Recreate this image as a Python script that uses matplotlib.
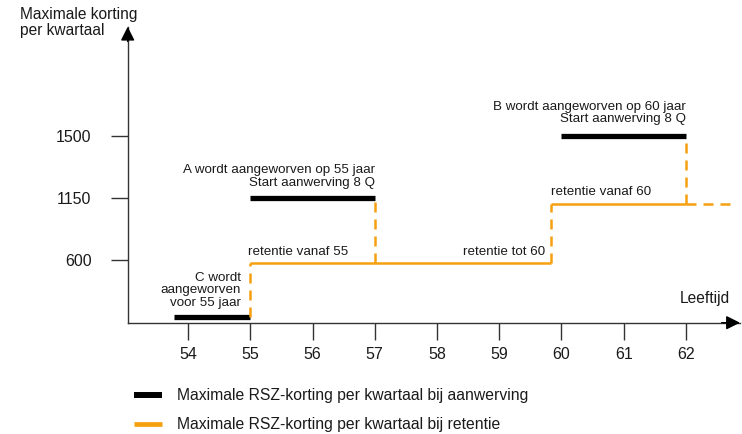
import numpy as np
import matplotlib
matplotlib.use('Agg')
import matplotlib.pyplot as plt
from matplotlib.lines import Line2D

plt.rcParams['font.family'] = ['Liberation Sans', 'DejaVu Sans']

# Data
ages = [54, 55, 56, 57, 58, 59, 60, 61, 62]
y_ticks = [600, 1150, 1500]

# hiring bars (black): start age, end age, discount level
hire_C = [53.78, 55, 55]
hire_A = [55, 57, 1150]
hire_B = [60, 62, 1500]

# retention (orange)
ret_start = 55
ret_step = 59.83
ret_end = 62
ret_tail = 62.8
ret_low = 572
ret_high = 1095

orange = '#f5a00f'
axis_col = '#333333'
txt_col = '#1a1a1a'

# schematic y scale: tick values evenly spaced
y_knots = [0, 600, 1150, 1500, 2200]
y_levels = [0, 1, 2, 3, 5]


def fwd(v):
    return np.interp(v, y_knots, y_levels)


def inv(l):
    return np.interp(l, y_levels, y_knots)


fig = plt.figure(figsize=(7.42, 4.34), dpi=100)
ax = fig.add_axes([127.7 / 742, 111.3 / 434, (740 - 127.7) / 742, (322.7 - 26.7) / 434])
ax.set_yscale('function', functions=(fwd, inv))
ax.set_xlim(53.03, 62.87)
ax.set_ylim(0, 2112)

# black bars
for x0, x1, lvl in [hire_C, hire_A, hire_B]:
    ax.plot([x0, x1], [lvl, lvl], color='black', lw=3.8, solid_capstyle='butt', zorder=2)

# orange retention lines
sol = dict(color=orange, lw=1.8, solid_capstyle='butt', zorder=3)
dsh = dict(color=orange, lw=1.8, dashes=(4, 2.8), zorder=3)
ax.plot([ret_start, ret_step], [ret_low, ret_low], **sol)
ax.plot([ret_step, ret_end], [ret_high, ret_high], **sol)
ax.plot([ret_end, ret_tail], [ret_high, ret_high], **dsh)
ax.plot([ret_start, ret_start], [hire_C[2], ret_low], **dsh)
ax.plot([hire_A[1], hire_A[1]], [ret_low, hire_A[2]], **dsh)
ax.plot([ret_step, ret_step], [ret_low, ret_high], **dsh)
ax.plot([ret_end, ret_end], [ret_high, hire_B[2]], **dsh)

# axes styling
for s in ['top', 'right']:
    ax.spines[s].set_visible(False)
for s in ['left', 'bottom']:
    ax.spines[s].set_color(axis_col)
    ax.spines[s].set_linewidth(1.0)
ax.set_xticks(ages)
ax.set_yticks(y_ticks)
ax.set_yticklabels([str(v) for v in y_ticks])
ax.minorticks_off()
ax.tick_params(axis='x', length=12.5, width=1.0, color=axis_col, pad=5,
               labelsize=11.5, labelcolor=txt_col)
ax.tick_params(axis='y', length=12.5, width=1.0, color=axis_col, pad=13.5,
               labelsize=11.5, labelcolor=txt_col)

arr = dict(arrowstyle='-|>', color='black', lw=1.0, mutation_scale=21, shrinkA=0, shrinkB=0)
ax.annotate('', xy=(1, 0), xytext=(0.97, 0), xycoords='axes fraction', arrowprops=arr)
ax.annotate('', xy=(0, 1), xytext=(0, 0.95), xycoords='axes fraction', arrowprops=arr)

# labels
fig.text(20 / 742, 1 - 7.5 / 434, 'Maximale korting\nper kwartaal', ha='left', va='top',
         fontsize=11.2, color=txt_col, linespacing=1.08)
fig.text(730 / 742, 1 - 298.3 / 434, 'Leeftijd', ha='right', va='center', fontsize=11.2, color=txt_col)

ann = dict(fontsize=9.6, color=txt_col, linespacing=1.06, textcoords='offset points')
ax.annotate('A wordt aangeworven op 55 jaar\nStart aanwerving 8 Q', xy=(hire_A[1], hire_A[2]),
            xytext=(0, 6.5), ha='right', va='bottom', **ann)
ax.annotate('B wordt aangeworven op 60 jaar\nStart aanwerving 8 Q', xy=(hire_B[1], hire_B[2]),
            xytext=(0, 7.5), ha='right', va='bottom', **ann)
ax.annotate('C wordt\naangeworven\nvoor 55 jaar', xy=(54.85, hire_C[2]),
            xytext=(0, 6), ha='right', va='bottom', **ann)
ax.annotate('retentie vanaf 55', xy=(ret_start, ret_low), xytext=(-2, 8.3), ha='left',
            va='center', **ann)
ax.annotate('retentie tot 60', xy=(59.74, ret_low), xytext=(0, 8.3), ha='right',
            va='center', **ann)
ax.annotate('retentie vanaf 60', xy=(ret_step, ret_high), xytext=(0, 9), ha='left',
            va='center', **ann)

# legend
handles = [Line2D([], [], color='black', lw=4.3, solid_capstyle='butt'),
           Line2D([], [], color=orange, lw=3.4, solid_capstyle='butt')]
labels = ['Maximale RSZ-korting per kwartaal bij aanwerving',
          'Maximale RSZ-korting per kwartaal bij retentie']
leg = fig.legend(handles, labels, loc='upper left', bbox_to_anchor=(134 / 742, 1 - 388 / 434),
                 frameon=False, fontsize=11.3, handlelength=1.78, handletextpad=0.95,
                 labelspacing=0.9, borderpad=0, borderaxespad=0, labelcolor=txt_col)

fig.savefig('out.png', dpi=100)
